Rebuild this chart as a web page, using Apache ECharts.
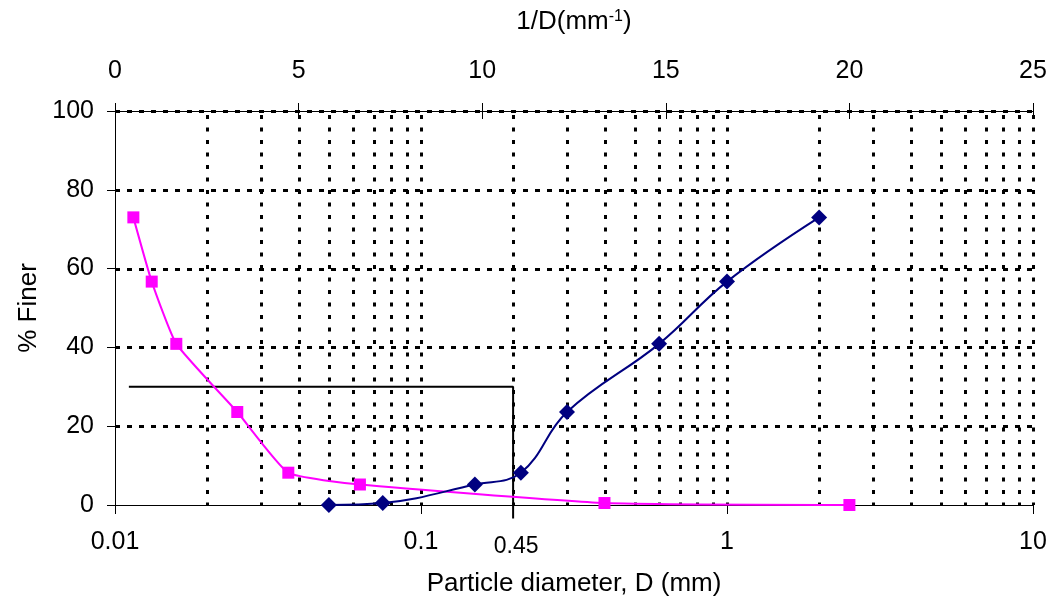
<!DOCTYPE html>
<html>
<head>
<meta charset="utf-8">
<script src="https://cdn.jsdelivr.net/npm/echarts@6.0.0/dist/echarts.min.js"></script>
<style>
  html, body { margin: 0; padding: 0; background: #fff; }
  #chart { width: 1058px; height: 602px; }
</style>
</head>
<body>
<div id="chart"></div>
<script>
// ---- data ----
const diameterMM      = [0.05, 0.075, 0.15, 0.212, 0.3, 0.6, 1.0, 2.0];
const inverseDiameter = [20, 13.33, 6.67, 4.72, 3.33, 1.67, 1.0, 0.5];
const percentFiner    = [0, 0.5, 5.2, 8.2, 23.6, 40.9, 56.7, 73.0];

// tick / grid values
const logGridValues = [0.02, 0.03, 0.04, 0.05, 0.06, 0.07, 0.08, 0.09, 0.1,
                       0.2, 0.3, 0.4, 0.5, 0.6, 0.7, 0.8, 0.9, 1,
                       2, 3, 4, 5, 6, 7, 8, 9, 10];
const yGridValues = [20, 40, 60, 80, 100];

// annotation (construction line for D at 30% finer)
const annotationPath  = [[0.0111, 30], [0.2, 30], [0.2, -3.4]];
const annotationPoint = [0.2, -3.4];
const annotationText  = '0.45';

const FONT = "'Liberation Sans', Arial, sans-serif";

const chart = echarts.init(document.getElementById('chart'), null, { renderer: 'canvas' });

const blueData = diameterMM.map((d, i) => [d, percentFiner[i]]);
const pinkData = inverseDiameter.map((v, i) => [v, percentFiner[i]]);

const labelStyle = { color: '#000', fontSize: 25, fontFamily: FONT };
const nameStyle  = { color: '#000', fontSize: 26, fontFamily: FONT };

const option = {
  animation: false,
  backgroundColor: '#fff',
  grid: { left: 115, right: 25, top: 111, bottom: 97, containLabel: false },
  xAxis: [
    {
      type: 'log', logBase: 10, min: 0.01, max: 10, position: 'bottom',
      axisLine: { show: true, lineStyle: { color: '#000', width: 1 } },
      axisTick: { show: true, length: 9, lineStyle: { color: '#000', width: 1 } },
      axisLabel: Object.assign({ margin: 25, formatter: v => String(+(+v).toPrecision(6)) }, labelStyle),
      splitLine: { show: false },
      minorTick: { show: false }, minorSplitLine: { show: false },
      name: 'Particle diameter, D (mm)', nameLocation: 'middle', nameGap: 66,
      nameTextStyle: nameStyle
    },
    {
      type: 'value', min: 0, max: 25, interval: 5, position: 'top',
      axisLine: { show: true, onZero: false, lineStyle: { color: '#000', width: 1 } },
      axisTick: { show: true, length: 8, lineStyle: { color: '#000', width: 1 } },
      axisLabel: Object.assign({ margin: 27 }, labelStyle),
      splitLine: { show: false },
      name: '1/D(mm{sup|-1})', nameLocation: 'middle', nameGap: 76,
      nameTextStyle: Object.assign({}, nameStyle, {
        rich: { sup: { fontSize: 16, fontFamily: FONT, color: '#000', verticalAlign: 'top', lineHeight: 12 } }
      })
    },
    {
      type: 'value', min: 0, max: 25, interval: 5, position: 'top',
      axisLine: { show: false },
      axisTick: { show: true, inside: true, length: 8, lineStyle: { color: '#000', width: 1 } },
      axisLabel: { show: false },
      splitLine: { show: false }
    }
  ],
  yAxis: [
    {
      type: 'value', min: 0, max: 100, interval: 20,
      axisLine: { show: true, onZero: false, lineStyle: { color: '#000', width: 1 } },
      axisTick: { show: true, length: 8, lineStyle: { color: '#000', width: 1 } },
      axisLabel: Object.assign({ margin: 21 }, labelStyle),
      splitLine: { show: false },
      name: '% Finer', nameLocation: 'middle', nameGap: 71,
      nameTextStyle: nameStyle
    }
  ],
  series: [
    {
      name: 'hgrid', type: 'custom', xAxisIndex: 0, yAxisIndex: 0, silent: true, z: 1,
      data: yGridValues.map(v => [1, v]),
      renderItem: (params, api) => {
        const cs = params.coordSys;
        const y = Math.round(api.coord([1, api.value(1)])[1]) + 0.5;
        return { type: 'line', shape: { x1: cs.x, y1: y, x2: cs.x + cs.width, y2: y },
                 style: { stroke: '#000', lineWidth: 3, lineDash: [5, 7] } };
      }
    },
    {
      name: 'vgrid', type: 'custom', xAxisIndex: 0, yAxisIndex: 0, silent: true, z: 1,
      data: logGridValues.map(v => [v, 50]),
      renderItem: (params, api) => {
        const cs = params.coordSys;
        const x = Math.round(api.coord([api.value(0), 50])[0]) + 0.5;
        return { type: 'line', shape: { x1: x, y1: cs.y + 4, x2: x, y2: cs.y + cs.height },
                 style: { stroke: '#000', lineWidth: 3, lineDash: [4, 8.5] } };
      }
    },
    {
      name: 'construction', type: 'line', xAxisIndex: 0, yAxisIndex: 0, z: 3,
      data: annotationPath, symbol: 'none', clip: false, silent: true,
      lineStyle: { color: '#000', width: 2 }
    },
    {
      name: '1/D', type: 'line', xAxisIndex: 1, yAxisIndex: 0, z: 4,
      data: pinkData, smooth: 0.15,
      symbol: 'rect', symbolSize: 12,
      itemStyle: { color: '#FF00FF' },
      lineStyle: { color: '#FF00FF', width: 2 }
    },
    {
      name: 'D', type: 'line', xAxisIndex: 0, yAxisIndex: 0, z: 5,
      data: blueData, smooth: 0.4,
      symbol: 'diamond', symbolSize: 16,
      itemStyle: { color: '#000080' },
      lineStyle: { color: '#000080', width: 2 }
    }
  ]
};

chart.setOption(option);

// annotation text placed at the construction line end via the chart's own scales
const p = chart.convertToPixel({ xAxisIndex: 0, yAxisIndex: 0 }, annotationPoint);
chart.setOption({
  graphic: [{
    type: 'text', silent: true, z: 10,
    x: p[0] + 3, y: p[1] + 17,
    style: { text: annotationText, fill: '#000', font: "23px 'Liberation Sans', Arial, sans-serif",
             textAlign: 'center', textVerticalAlign: 'top' }
  }]
});
</script>
</body>
</html>
